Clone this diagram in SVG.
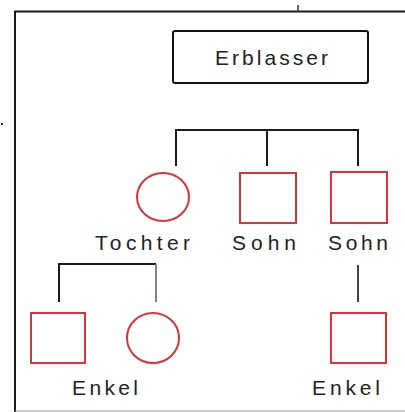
<svg xmlns="http://www.w3.org/2000/svg" width="405" height="412" viewBox="0 0 405 412">
<style>
.frame{stroke:#1a1a1a;stroke-width:2;fill:none}
.line{stroke:#1a1a1a;stroke-width:2;fill:none}
.m{stroke:#d8343a;stroke-width:2;fill:#fff}
.f{stroke:#d8343a;stroke-width:2;fill:#fff}
.box{stroke:#111;stroke-width:2;fill:#fff}
text{font-family:"Liberation Sans",Arial,sans-serif;font-size:21px;fill:#222;text-anchor:start}
</style>
<rect width="405" height="412" fill="#fff"/>
<g id="frame">
<line class="frame" x1="14" y1="11.5" x2="405" y2="11.5"/>
<line class="frame" x1="15" y1="11" x2="15" y2="412"/>
<line x1="15" y1="411" x2="405" y2="411" stroke="#999" stroke-width="1"/>
<line x1="298" y1="5" x2="298" y2="11" stroke="#333" stroke-width="1.5"/>
<rect x="1" y="123" width="2" height="2" fill="#333"/>
</g>
<g id="connectors">
<polyline class="line" points="176,166 176,130 358,130 358,166"/>
<line class="line" x1="267" y1="130" x2="267" y2="166"/>
<polyline class="line" points="59,302 59,264 156,264"/>
<line x1="156" y1="264" x2="156" y2="302" stroke="#8a7f80" stroke-width="2"/>
<line x1="358" y1="265" x2="358" y2="302" stroke="#444" stroke-width="2"/>
</g>
<g id="erblasser">
<rect class="box" x="173" y="31" width="195" height="52" rx="2"/>
<text x="215" y="65" textLength="113" lengthAdjust="spacing">Erblasser</text>
</g>
<g id="tochter">
<ellipse class="f" cx="163" cy="197" rx="26" ry="24"/>
<text x="95" y="250" textLength="95" lengthAdjust="spacing">Tochter</text>
</g>
<g id="sohn1">
<rect class="m" x="240" y="173" width="56" height="50"/>
<text x="232" y="250" textLength="64" lengthAdjust="spacing">Sohn</text>
</g>
<g id="sohn2">
<rect class="m" x="331" y="172" width="56" height="51"/>
<text x="328" y="250" textLength="60" lengthAdjust="spacing">Sohn</text>
</g>
<g id="enkel1">
<rect class="m" x="31" y="313" width="54" height="50"/>
</g>
<g id="enkelin">
<ellipse class="f" cx="153" cy="338" rx="26" ry="25"/>
</g>
<g id="enkel-label1">
<text x="72" y="395" textLength="66" lengthAdjust="spacing">Enkel</text>
</g>
<g id="enkel2">
<rect class="m" x="331" y="313" width="55" height="50"/>
<text x="312" y="395" textLength="68" lengthAdjust="spacing">Enkel</text>
</g>
</svg>
